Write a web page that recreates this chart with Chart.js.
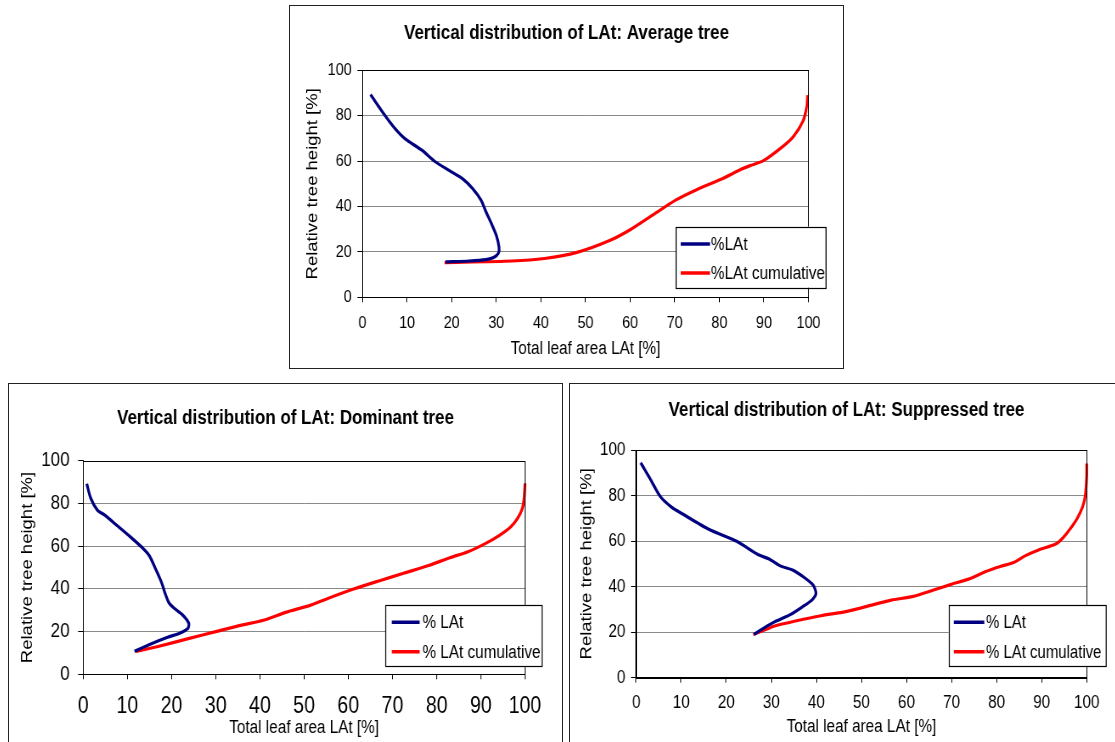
<!DOCTYPE html>
<html><head><meta charset="utf-8">
<script src="https://cdn.jsdelivr.net/npm/chart.js@4.4.0/dist/chart.umd.min.js"></script>
<style>
html,body{margin:0;padding:0;background:#fff;overflow:hidden;width:1115px;height:742px;}
.box{position:absolute;border:1px solid #222;width:553px;height:362px;overflow:hidden;background:#fff;}
.box canvas{position:absolute;left:0;top:0;transform-origin:0 0;}
</style></head><body>
<div class="box" style="left:289px;top:5px"><canvas id="c1" width="651" height="362"></canvas></div>
<div class="box" style="left:8px;top:383px"><canvas id="c2" width="651" height="362"></canvas></div>
<div class="box" style="left:569px;top:383px"><canvas id="c3" width="651" height="362"></canvas></div>
<script>
// ---------- data ----------
const xTickValues = [0,10,20,30,40,50,60,70,80,90,100];
const yTickValues = [0,20,40,60,80,100];
const xAxisTitle = 'Total leaf area LAt [%]';
const yAxisTitle = 'Relative tree height [%]';

const titleAvg = 'Vertical distribution of LAt: Average tree';
const titleDom = 'Vertical distribution of LAt: Dominant tree';
const titleSup = 'Vertical distribution of LAt: Suppressed tree';

const labelsAvg = ['%LAt', '%LAt cumulative'];
const labelsBottom = ['% LAt', '% LAt cumulative'];

// Average tree
const avgLAtX = [1.8, 5.0, 7.3, 9.5, 13.3, 16.4, 19.4, 22.4, 24.7, 26.6, 27.7, 28.9, 30.0, 30.6, 30.5, 29.4, 27.7, 23.9, 18.6];
const avgLAtY = [89.3, 80.2, 74.3, 69.9, 64.8, 59.6, 55.9, 52.3, 47.9, 42.7, 37.6, 32.5, 27.3, 22.2, 19.5, 17.5, 16.6, 16.0, 15.6];
const avgCumX = [18.4, 33.5, 40.8, 48.1, 55.4, 60.2, 65.1, 70.3, 74.8, 80.4, 84.9, 86.9, 89.9, 94.2, 96.6, 98.8, 99.6, 99.8];
const avgCumY = [15.3, 16.0, 17.1, 19.8, 25.0, 30.0, 36.3, 42.9, 47.3, 52.0, 56.4, 58.0, 60.2, 66.4, 70.8, 77.8, 84.0, 89.1];

// Dominant tree
const domLAtX = [0.8, 1.7, 3.2, 4.8, 7.8, 10.8, 13.5, 15.0, 16.5, 17.8, 18.4, 19.4, 20.6, 22.5, 23.9, 23.7, 22.1, 19.1, 15.3, 11.6];
const domLAtY = [89.2, 82.4, 76.9, 74.6, 69.4, 64.1, 59.0, 55.4, 48.8, 42.6, 38.7, 33.5, 30.9, 27.8, 23.9, 21.5, 19.5, 17.3, 14.2, 10.8];
const domCumX = [11.9, 16.7, 24.0, 30.0, 35.3, 41.0, 45.8, 51.5, 55.5, 61.2, 66.9, 72.5, 78.2, 83.0, 87.1, 91.1, 94.3, 96.8, 98.4, 99.4, 99.8, 100];
const domCumY = [10.6, 12.9, 16.8, 20.0, 22.8, 25.4, 29.0, 32.4, 35.6, 39.9, 43.7, 47.3, 50.9, 54.6, 57.4, 61.3, 65.2, 69.1, 73.3, 77.7, 82.4, 89.4];

// Suppressed tree
const supLAtX = [1.0, 3.1, 5.3, 7.9, 10.2, 16.1, 22.4, 26.9, 29.5, 32.1, 34.7, 37.3, 39.3, 39.9, 39.1, 36.9, 34.3, 30.6, 28.4, 26.1];
const supLAtY = [94.4, 87.3, 79.7, 74.8, 72.0, 65.2, 59.8, 54.2, 52.1, 49.0, 47.3, 44.0, 40.6, 37.0, 34.3, 31.1, 27.8, 24.4, 21.9, 19.0];
const supCumX = [26.0, 30.9, 35.6, 41.0, 46.5, 50.4, 56.6, 61.3, 66.0, 69.9, 73.8, 77.6, 80.8, 83.9, 86.2, 89.3, 93.1, 94.8, 96.3, 97.9, 99.1, 99.7, 100, 100];
const supCumY = [19.0, 22.8, 25.0, 27.2, 29.0, 30.9, 34.1, 35.6, 38.5, 41.0, 43.3, 46.6, 48.8, 50.7, 53.4, 56.1, 58.7, 61.6, 65.3, 70.0, 75.1, 80.2, 89.0, 94.1];

// ---------- rendering ----------
const CW = 651, CH = 362, S = 553 / CW;
const FONT = '"Liberation Sans", Arial, sans-serif';
Chart.defaults.color = '#000';
Chart.defaults.font.family = FONT;

const pts = (xs, ys) => xs.map((x, i) => ({x, y: ys[i]}));

const framePlugin = {
  id: 'frame',
  afterDraw(chart, args, o) {
    const {ctx, chartArea: a} = chart;
    ctx.save();
    ctx.strokeStyle = '#000';
    ctx.lineWidth = 1;
    const l = Math.round(a.left) + 0.5, t = Math.round(a.top) + 0.5;
    const r = Math.round(a.right) + 0.5, b = Math.round(a.bottom) + 0.5;
    ctx.strokeRect(l, t, r - l, b - t);
    const L = o.legend;
    const x0 = L.x0 / S, x1 = L.x1 / S;
    ctx.fillStyle = '#fff';
    ctx.fillRect(x0, L.y0, x1 - x0, L.y1 - L.y0);
    ctx.strokeStyle = '#000';
    ctx.lineWidth = 1.2;
    ctx.strokeRect(Math.round(x0) + 0.5, Math.round(L.y0) + 0.5, x1 - x0, L.y1 - L.y0);
    ctx.font = L.size + 'px ' + FONT;
    ctx.textBaseline = 'middle';
    ctx.textAlign = 'left';
    chart.data.datasets.forEach((ds, i) => {
      const y = L.rows[i];
      ctx.strokeStyle = ds.borderColor;
      ctx.lineWidth = 3.5;
      ctx.beginPath();
      ctx.moveTo(L.lx0 / S, y);
      ctx.lineTo(L.lx1 / S, y);
      ctx.stroke();
      ctx.fillStyle = '#000';
      ctx.fillText(ds.label, L.tx / S, y + 1);
    });
    ctx.restore();
  }
};

function build(id, title, labels, bx, by, rx, ry, g) {
  const canvas = document.getElementById(id);
  canvas.style.width = CW + 'px';
  canvas.style.height = CH + 'px';
  canvas.style.transform = 'scaleX(' + S + ')';
  const lhT = g.fTitle * 1.2, lhXT = g.fXTick * 1.2, lhXTitle = g.fXTitle * 1.2, lhYTitle = g.fYTitle * 1.2;
  const xH = CH - g.plotB;
  const P = CW - g.plotR / S;          // symmetric side padding keeps the title centred on the box
  const yW = g.plotL / S - P;
  new Chart(canvas, {
    type: 'scatter',
    data: {
      datasets: [
        {label: labels[0], data: pts(bx, by), showLine: true, borderColor: '#000080', backgroundColor: '#000080',
         borderWidth: 3.2, pointRadius: 0, tension: 0.25, fill: false, clip: 6},
        {label: labels[1], data: pts(rx, ry), showLine: true, borderColor: '#ff0000', backgroundColor: '#ff0000',
         borderWidth: 3.2, pointRadius: 0, tension: 0.25, fill: false, clip: 6}
      ]
    },
    options: {
      responsive: false,
      animation: false,
      devicePixelRatio: 1,
      layout: {padding: {left: P, top: 0, bottom: 0, right: P}},
      plugins: {
        legend: {display: false},
        tooltip: {enabled: false},
        title: {display: true, text: title, color: '#000',
          font: {size: g.fTitle, weight: 'bold', family: FONT, lineHeight: 1.2},
          padding: {top: g.titleY - lhT / 2, bottom: g.plotT - g.titleY - lhT / 2}},
        frame: {legend: g.leg}
      },
      scales: {
        x: {
          type: 'linear', min: 0, max: 100,
          afterBuildTicks: ax => { ax.ticks = xTickValues.map(v => ({value: v})); },
          afterFit: sc => { sc.height = xH; },
          ticks: {autoSkip: false, maxRotation: 0, minRotation: 0, color: '#000',
            font: {size: g.fXTick, family: FONT, lineHeight: 1.2},
            padding: g.xTickOff - 5 - lhXT / 2},
          grid: {drawOnChartArea: false, drawTicks: true, tickLength: 5, tickColor: '#000', color: '#000'},
          border: {display: true, color: '#000', width: 1},
          title: {display: true, text: xAxisTitle, color: '#000',
            font: {size: g.fXTitle, family: FONT, lineHeight: 1.2},
            padding: {top: 0, bottom: xH - g.xTitleOff - lhXTitle / 2}}
        },
        y: {
          type: 'linear', min: 0, max: 100,
          afterBuildTicks: ax => { ax.ticks = yTickValues.map(v => ({value: v})); },
          afterFit: sc => { sc.width = yW; sc._computeLabelArea = () => null; },
          ticks: {color: '#000', font: {size: g.fYTick, family: FONT, lineHeight: 1.2},
            padding: (g.plotL - g.yTickR) / S - 6},
          grid: {drawTicks: true, tickLength: 6, tickColor: '#000',
            color: c => (c.tick && (c.tick.value === 0 || c.tick.value === 100)) ? 'rgba(0,0,0,0)' : '#8a8a8a'},
          border: {display: true, color: '#000', width: 1},
          title: {display: true, text: yAxisTitle, color: '#000',
            font: {size: g.fYTitle, family: FONT, lineHeight: 1.2},
            padding: {top: g.yTitleX / S - lhYTitle / 2 - P, bottom: 0}}
        }
      }
    },
    plugins: [framePlugin]
  });
}

build('c1', titleAvg, labelsAvg, avgLAtX, avgLAtY, avgCumX, avgCumY, {
  plotL: 72.5, plotR: 518.5, plotT: 64.3, plotB: 291.3, titleY: 27.3, xTickOff: 26, xTitleOff: 52,
  yTitleX: 23, yTickR: 61.7, fTitle: 20, fYTick: 17, fXTick: 17, fXTitle: 18, fYTitle: 18.5,
  leg: {x0: 385.7, x1: 535.7, y0: 220.7, y1: 281.7, lx0: 390.7, lx1: 420, rows: [238, 267], tx: 421, size: 18}
});
build('c2', titleDom, labelsBottom, domLAtX, domLAtY, domCumX, domCumY, {
  plotL: 74.2, plotR: 516, plotT: 76.7, plotB: 290.3, titleY: 34, xTickOff: 32.4, xTitleOff: 53.4,
  yTitleX: 19, yTickR: 60.6, fTitle: 20, fYTick: 20, fXTick: 23, fXTitle: 18, fYTitle: 18.5,
  leg: {x0: 376.7, x1: 533, y0: 221, y1: 282, lx0: 382.8, lx1: 410.6, rows: [238.3, 267.7], tx: 413.5, size: 18}
});
build('c3', titleSup, labelsBottom, supLAtX, supLAtY, supCumX, supCumY, {
  plotL: 66.2, plotR: 516.7, plotT: 66, plotB: 293.7, titleY: 26, xTickOff: 25.6, xTitleOff: 49,
  yTitleX: 16.8, yTickR: 55.4, fTitle: 20, fYTick: 18, fXTick: 18, fXTitle: 18, fYTitle: 18.5,
  leg: {x0: 378.5, x1: 535.4, y0: 221, y1: 282, lx0: 383.8, lx1: 414.3, rows: [238.3, 267.7], tx: 416, size: 17.6}
});
</script>
</body></html>
